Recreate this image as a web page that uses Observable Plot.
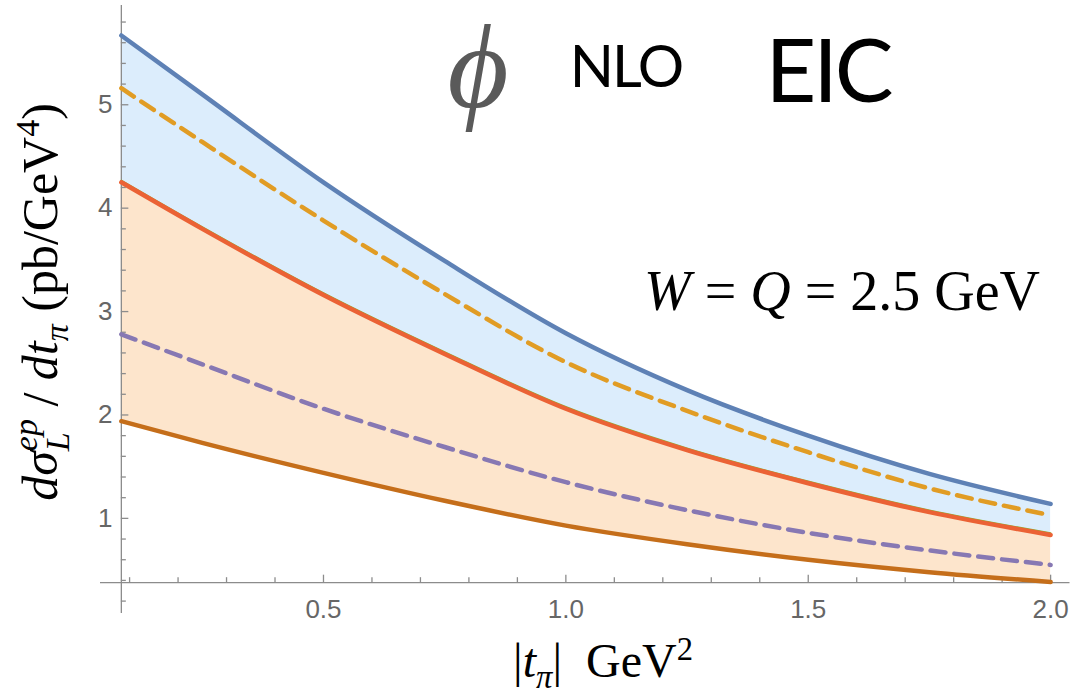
<!DOCTYPE html>
<html><head><meta charset="utf-8">
<script src="https://cdn.jsdelivr.net/npm/d3@7"></script>
<script src="https://cdn.jsdelivr.net/npm/@observablehq/plot@0.6"></script>
<style>
body{margin:0;background:#fff;}
#wrap{position:relative;width:1084px;height:697px;overflow:hidden;background:#fff;}
#wrap svg{position:absolute;left:0;top:0;}
.ov{position:absolute;white-space:nowrap;line-height:1.25;color:#000;}
.ss{display:inline-block;font-size:0.68em;line-height:0.95;vertical-align:-12px;text-align:left;}
.ss span{display:block;}
</style></head><body><div id="wrap"></div>
<script>
// |t_pi| values (GeV^2)
const t = [0.083, 0.25, 0.5, 0.75, 1.0, 1.25, 1.5, 1.75, 2.0];
// dσ_L/dt (pb/GeV^4)
const blueSolid    = [5.67, 5.10, 4.25, 3.49, 2.79, 2.24, 1.80, 1.43, 1.14];
const orangeDashed = [5.16, 4.64, 3.88, 3.17, 2.51, 2.04, 1.64, 1.29, 1.03];
const redSolid     = [4.25, 3.80, 3.16, 2.59, 2.06, 1.66, 1.34, 1.06, 0.84];
const purpleDashed = [2.78, 2.49, 2.06, 1.69, 1.35, 1.08, 0.86, 0.69, 0.55];
const brownSolid   = [1.94, 1.73, 1.44, 1.17, 0.93, 0.75, 0.60, 0.48, 0.385];

const xDomain = [0.04, 2.04];
const yDomain = [0.08, 5.96];
const xAxisY = 0.378;      // y value where horizontal axis crosses
const yAxisX = t[0];       // x value where vertical axis crosses
const xMajor = [0.5, 1.0, 1.5, 2.0];
const xMinor = [0.1,0.2,0.3,0.4,0.6,0.7,0.8,0.9,1.1,1.2,1.3,1.4,1.6,1.7,1.8,1.9];
const yMajor = [1, 2, 3, 4, 5];
const yMinor = [0.2,0.4,0.6,0.8,1.2,1.4,1.6,1.8,2.2,2.4,2.6,2.8,3.2,3.4,3.6,3.8,4.2,4.4,4.6,4.8,5.2,5.4,5.6,5.8];

const rows = t.map((x, i) => ({x, blue: blueSolid[i], orange: orangeDashed[i], red: redSolid[i], purple: purpleDashed[i], brown: brownSolid[i]}));

const axisColor = "#8c8c8c";
const labelColor = "#666666";
const curve = "monotone-x";
const lw = 4.5;

const chart = Plot.plot({
  width: 1084, height: 697,
  marginLeft: 100, marginRight: 14.5, marginTop: 5, marginBottom: 84,
  x: {domain: xDomain, axis: null},
  y: {domain: yDomain, axis: null},
  style: {background: "transparent", fontFamily: "'Liberation Sans', Arial, sans-serif"},
  marks: [
    Plot.areaY(rows, {x: "x", y1: "red", y2: "blue", fill: "#dcedfc", curve}),
    Plot.areaY(rows, {x: "x", y1: "brown", y2: "red", fill: "#fde5cc", curve}),
    // axes
    Plot.ruleY([xAxisY], {y: d => d, x1: () => xDomain[0], x2: () => xDomain[1], stroke: axisColor, strokeWidth: 1.3}),
    Plot.ruleX([yAxisX], {x: d => d, y1: () => yDomain[0], y2: () => yDomain[1], stroke: axisColor, strokeWidth: 1.3}),
    Plot.ruleX(xMajor, {x: d => d, y1: () => xAxisY, y2: () => xAxisY, insetTop: 0, insetBottom: 7.5, stroke: axisColor, strokeWidth: 1.3}),
    Plot.ruleX(xMinor, {x: d => d, y1: () => xAxisY, y2: () => xAxisY, insetTop: 0, insetBottom: 5, stroke: axisColor, strokeWidth: 1.3}),
    Plot.ruleY(yMajor, {y: d => d, x1: () => yAxisX, x2: () => yAxisX, insetLeft: 0, insetRight: -7.5, stroke: axisColor, strokeWidth: 1.3}),
    Plot.ruleY(yMinor, {y: d => d, x1: () => yAxisX, x2: () => yAxisX, insetLeft: 0, insetRight: -5, stroke: axisColor, strokeWidth: 1.3}),
    Plot.text(xMajor, {x: d => d, y: () => xAxisY, dy: 27, text: d => d.toFixed(1), fontSize: 26, fill: labelColor}),
    Plot.text(yMajor, {x: () => yAxisX, y: d => d, dx: -9, textAnchor: "end", text: d => String(d), fontSize: 26, fill: labelColor}),
    // curves
    Plot.line(rows, {x: "x", y: "brown", stroke: "#C56E1A", strokeWidth: lw, curve}),
    Plot.line(rows, {x: "x", y: "purple", stroke: "#8778B3", strokeWidth: lw, strokeDasharray: "15,9", curve}),
    Plot.line(rows, {x: "x", y: "red", stroke: "#8FB032", strokeWidth: 1.5, dy: -2, curve}),
    Plot.line(rows, {x: "x", y: "red", stroke: "#EB6235", strokeWidth: lw, curve}),
    Plot.line(rows, {x: "x", y: "orange", stroke: "#E19C24", strokeWidth: lw, strokeDasharray: "15,9", curve}),
    Plot.line(rows, {x: "x", y: "blue", stroke: "#5E81B5", strokeWidth: lw, curve})
  ]
});

const wrap = document.getElementById("wrap");
wrap.appendChild(chart);

function overlay(html, css) {
  const d = document.createElement("div");
  d.className = "ov";
  d.innerHTML = html;
  Object.assign(d.style, css);
  wrap.appendChild(d);
  return d;
}

// y-axis title
overlay('<i>dσ</i><span class="ss"><span><i>ep</i></span><span><i>L</i></span></span><span style="margin:0 0.25em">/</span><i>dt</i><sub style="font-size:0.68em"><i>π</i></sub>&nbsp;(pb/GeV<sup style="font-size:0.68em">4</sup>)',
  {left: "42px", top: "302px", transform: "translate(-50%,-50%) rotate(-90deg)", fontSize: "50px", lineHeight: "1", fontFamily: "'Liberation Serif', serif"});
// x-axis title
overlay('|<i>t</i><sub style="font-size:0.68em;line-height:0"><i>π</i></sub>|&nbsp;&nbsp;GeV<sup style="font-size:0.68em;line-height:0">2</sup>',
  {left: "603px", top: "637px", transform: "translateX(-50%)", fontSize: "48px", lineHeight: "1", fontFamily: "'Liberation Serif', serif"});
// annotation
overlay('<i>W</i>&nbsp;=&nbsp;<i>Q</i>&nbsp;=&nbsp;2.5&nbsp;GeV',
  {left: "842px", top: "263px", transform: "translateX(-50%)", fontSize: "56px", lineHeight: "1", fontFamily: "'Liberation Serif', serif"});
// title pieces
overlay('ϕ', {left: "478px", top: "-6px", transform: "translateX(-50%)", fontSize: "118px", fontFamily: "'Liberation Serif', serif", fontStyle: "italic", fontWeight: "normal", color: "#5a5a5a"});
overlay('NLO', {left: "626px", top: "29px", transform: "translateX(-50%)", fontSize: "58px", fontFamily: "Lato, sans-serif", letterSpacing: "-2px"});
overlay('EIC', {left: "828px", top: "13px", transform: "translateX(-50%)", fontSize: "88px", fontFamily: "Lato, sans-serif", letterSpacing: "-3px"});
</script>
</body></html>
